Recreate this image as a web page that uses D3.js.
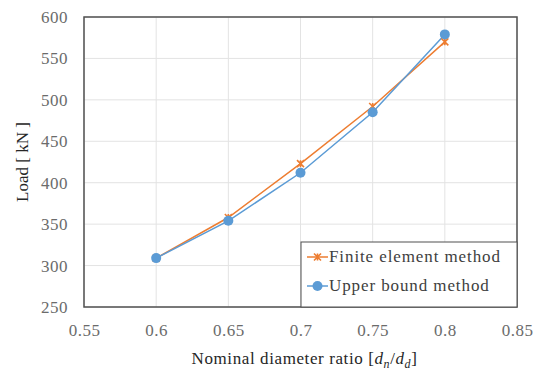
<!DOCTYPE html>
<html>
<head>
<meta charset="utf-8">
<script src="https://cdn.jsdelivr.net/npm/d3@7"></script>
<style>
  body { margin: 0; background: #fff; }
</style>
</head>
<body>
<svg id="chart" width="545" height="371"></svg>
<script>
// x values (nominal diameter ratio)
const ratios = [0.6, 0.65, 0.7, 0.75, 0.8];
// load values [kN]
const femLoads = [309, 358, 423, 492, 570];
const upperLoads = [309, 354, 412, 485, 579];
const xTicks = [0.55, 0.6, 0.65, 0.7, 0.75, 0.8, 0.85];
const yTicks = [250, 300, 350, 400, 450, 500, 550, 600];
const seriesNames = ['Finite element method', 'Upper bound method'];

// the serif face only renders reliably at 17px here; letter-spacing widens it
const FONT = "'Liberation Serif', 'Times New Roman', serif";
const SIZE = '17px';
const plot = { left: 84, top: 17, right: 517, bottom: 307 };
const svg = d3.select('#chart');

const x = d3.scaleLinear().domain([0.55, 0.85]).range([plot.left, plot.right]);
const y = d3.scaleLinear().domain([250, 600]).range([plot.bottom, plot.top]);

// gridlines
svg.append('g')
  .selectAll('line')
  .data(xTicks)
  .enter()
  .append('line')
  .attr('x1', d => x(d)).attr('x2', d => x(d))
  .attr('y1', plot.top).attr('y2', plot.bottom)
  .attr('stroke', '#e3e3e3').attr('stroke-width', 1);

svg.append('g')
  .selectAll('line')
  .data(yTicks)
  .enter()
  .append('line')
  .attr('x1', plot.left).attr('x2', plot.right)
  .attr('y1', d => y(d)).attr('y2', d => y(d))
  .attr('stroke', '#e3e3e3').attr('stroke-width', 1);

// axes: tick labels only
const xAxis = svg.append('g')
  .attr('transform', `translate(0,${plot.bottom})`)
  .call(d3.axisBottom(x).tickValues(xTicks).tickSize(0).tickPadding(17).tickFormat(d => String(+d.toFixed(2))));
const yAxis = svg.append('g')
  .attr('transform', `translate(${plot.left},0)`)
  .call(d3.axisLeft(y).tickValues(yTicks).tickSize(0).tickPadding(16));
[xAxis, yAxis].forEach(a => {
  a.attr('font-family', null).attr('font-size', null);
  a.select('.domain').remove();
  a.selectAll('text')
    .style('font-family', FONT)
    .style('font-size', SIZE)
    .style('letter-spacing', '0.5px')
    .attr('fill', '#6b6b6b');
});

// frame
svg.append('rect')
  .attr('x', plot.left).attr('y', plot.top)
  .attr('width', plot.right - plot.left).attr('height', plot.bottom - plot.top)
  .attr('fill', 'none').attr('stroke', '#505050').attr('stroke-width', 1.5);

const line = d3.line().x(d => x(d[0])).y(d => y(d[1]));
const femData = ratios.map((r, i) => [r, femLoads[i]]);
const upperData = ratios.map((r, i) => [r, upperLoads[i]]);
const orange = '#ED7D31';
const blue = '#5B9BD5';

function starPath(cx, cy, s) {
  return `M${cx - s},${cy - s}L${cx + s},${cy + s}M${cx - s},${cy + s}L${cx + s},${cy - s}M${cx},${cy - s}L${cx},${cy + s}`;
}

svg.append('path').datum(femData)
  .attr('d', line).attr('fill', 'none')
  .attr('stroke', orange).attr('stroke-width', 1.5);
svg.append('path').datum(upperData)
  .attr('d', line).attr('fill', 'none')
  .attr('stroke', blue).attr('stroke-width', 1.5);

svg.append('g')
  .selectAll('path')
  .data(femData)
  .enter()
  .append('path')
  .attr('d', d => starPath(x(d[0]), y(d[1]), 3.5))
  .attr('stroke', orange).attr('stroke-width', 1.6).attr('fill', 'none');

svg.append('g')
  .selectAll('circle')
  .data(upperData)
  .enter()
  .append('circle')
  .attr('cx', d => x(d[0])).attr('cy', d => y(d[1]))
  .attr('r', 5).attr('fill', blue);

// legend
const legend = svg.append('g').attr('transform', 'translate(301,242)');
legend.append('rect')
  .attr('width', 216).attr('height', 65)
  .attr('fill', '#fff').attr('stroke', '#505050').attr('stroke-width', 1);
seriesNames.forEach((name, i) => {
  const cy = 15 + i * 29;
  const color = i === 0 ? orange : blue;
  legend.append('line')
    .attr('x1', 6).attr('x2', 27).attr('y1', cy).attr('y2', cy)
    .attr('stroke', color).attr('stroke-width', 1.5);
  if (i === 0) {
    legend.append('path').attr('d', starPath(16.5, cy, 3.5))
      .attr('stroke', color).attr('stroke-width', 1.6);
  } else {
    legend.append('circle').attr('cx', 16.5).attr('cy', cy).attr('r', 5).attr('fill', color);
  }
  legend.append('text')
    .attr('x', 28).attr('y', cy + 5)
    .style('font-family', FONT).style('font-size', SIZE).style('letter-spacing', '0.9px')
    .attr('fill', '#404040')
    .text(name);
});

// axis titles
svg.append('text')
  .attr('transform', `translate(28,${(plot.top + plot.bottom) / 2}) rotate(-90)`)
  .attr('text-anchor', 'middle')
  .style('font-family', FONT).style('font-size', SIZE).attr('fill', '#262626')
  .text('Load [ kN ]');

const xt = svg.append('text')
  .attr('x', (plot.left + plot.right) / 2 + 4).attr('y', 364)
  .attr('text-anchor', 'middle')
  .style('font-family', FONT).style('font-size', SIZE).style('letter-spacing', '0.6px')
  .attr('fill', '#262626');
xt.append('tspan').text('Nominal diameter ratio [');
xt.append('tspan').style('font-style', 'italic').text('d');
xt.append('tspan').style('font-style', 'italic').style('font-size', '12px').attr('dy', 4).text('n');
xt.append('tspan').attr('dy', -4).text('/');
xt.append('tspan').style('font-style', 'italic').text('d');
xt.append('tspan').style('font-style', 'italic').style('font-size', '12px').attr('dy', 4).text('d');
xt.append('tspan').attr('dy', -4).text(']');
</script>
</body>
</html>
